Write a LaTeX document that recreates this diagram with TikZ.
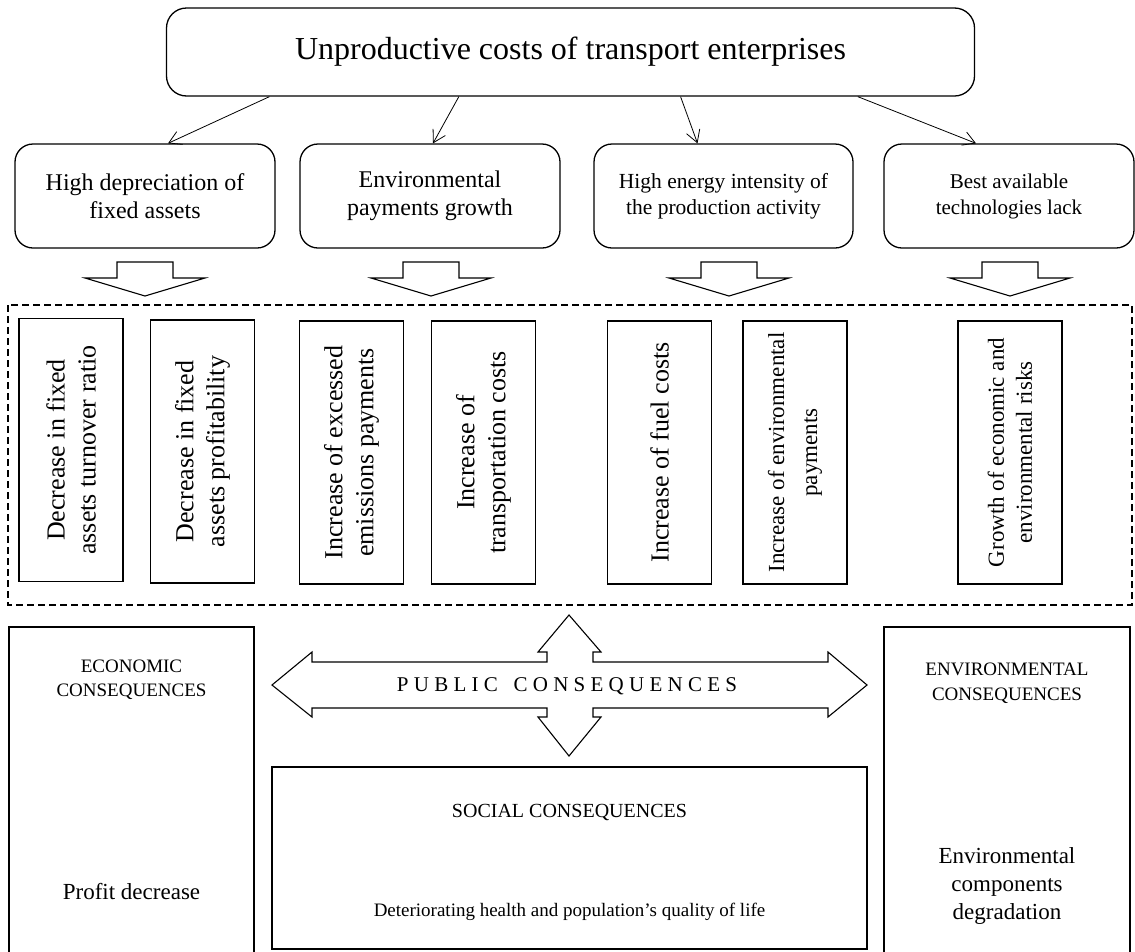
\documentclass[tikz,border=0pt]{standalone}
\usepackage{fontspec}
\setmainfont{Liberation Serif}
\usetikzlibrary{positioning,calc,arrows.meta}

\tikzset{
  rbox/.style={draw, line width=1.3pt, rounded corners=18pt, align=center, inner sep=2pt},
  vbox/.style={draw, line width=1.2pt, rotate=90, align=center, minimum width=263pt, minimum height=104pt, inner sep=2pt, font=\fontsize{26}{31}\selectfont},
  cbox/.style={draw, line width=1.2pt, minimum width=245pt},
  link/.style={line width=0.8pt, -{Straight Barb[length=12pt,width=14pt,line width=0.8pt]}},
  blockarrow/.style={line width=1.1pt},
}

\begin{document}
\begin{tikzpicture}[x=1pt, y=-1pt]
	\useasboundingbox (0,0) rectangle (1135,951);
	% top box and its causes
		\node[rbox, minimum width=808pt, minimum height=88pt, rounded corners=20pt, font=\fontsize{32}{38}\selectfont] (top) at (570.5,52) {Unproductive costs of transport enterprises};
		\node[rbox, minimum width=260pt, minimum height=104pt, font=\fontsize{24}{28}\selectfont] (hd) at (145,196) {High depreciation of\\fixed assets};
		\node[rbox, minimum width=260pt, minimum height=104pt, font=\fontsize{24}{28}\selectfont] (ep) at (430,196) {Environmental\\payments growth};
		\node[rbox, minimum width=259pt, minimum height=104pt, font=\fontsize{21.5}{26}\selectfont] (he) at (723.5,196) {High energy intensity of\\the production activity};
		\node[rbox, minimum width=250pt, minimum height=104pt, font=\fontsize{21}{26}\selectfont] (ba) at (1009,196) {Best available\\technologies lack};

		\draw[link] ($(top.south west)!0.128!(top.south east)$) -- ([xshift=23pt]hd.north);
		\draw[link] ($(top.south west)!0.362!(top.south east)$) -- ([xshift=3pt]ep.north);
		\draw[link] ($(top.south west)!0.636!(top.south east)$) -- ([xshift=-26pt]he.north);
		\draw[link] ($(top.south west)!0.855!(top.south east)$) -- ([xshift=-33pt]ba.north);

	% block arrows down
		\foreach \x in {145,431,729,1010}
			\draw[blockarrow] (\x-28,262) -- (\x+28,262) -- (\x+28,278) -- (\x+60,278) -- (\x,296) -- (\x-60,278) -- (\x-28,278) -- cycle;

	% the effects
		\draw[line width=1.3pt, dash pattern=on 7pt off 4pt] (8,305) rectangle (1132,605);
		\node[vbox] (v1) at (71,450) {Decrease in fixed\\assets turnover ratio};
		\node[vbox] (v2) at (202.5,451.5) {Decrease in fixed\\assets profitability};
		\node[vbox] (v3) at (351.5,452.5) {Increase of excessed\\emissions payments};
		\node[vbox] (v4) at (483.5,452.5) {Increase of\\transportation costs};
		\node[vbox] (v5) at (659.5,452.5) {Increase of fuel costs};
		\node[vbox, font=\fontsize{23}{33}\selectfont] (v6) at (795,452.5) {Increase of environmental\\payments};
		\node[vbox, font=\fontsize{23}{28}\selectfont] (v7) at (1010,452.5) {Growth of economic and\\environmental risks};

	% consequences
		\draw[line width=1.2pt] (9,960) -- (9,627) -- (254,627) -- (254,960);
		\draw[line width=1.2pt] (884,960) -- (884,627) -- (1130,627) -- (1130,960);
		\node[cbox, minimum width=595pt, minimum height=182pt] (soc) at (569.5,858) {};
		\coordinate (eco) at (131.5,627);
		\coordinate (env) at (1007,627);

		\node[align=center, font=\fontsize{19}{24}\selectfont, below=29pt of eco] (ecot) {ECONOMIC\\CONSEQUENCES};
		\node[font=\fontsize{23}{28}\selectfont] (ecod) at (131.5,892) {Profit decrease};
		\node[align=center, font=\fontsize{19}{25}\selectfont, below=32pt of env] (envt) {ENVIRONMENTAL\\CONSEQUENCES};
		\node[align=center, font=\fontsize{23}{28}\selectfont] (envd) at (1007,886) {Environmental\\components\\degradation};
		\node[font=\fontsize{20}{24}\selectfont, below=34pt of soc.north] (soct) {SOCIAL CONSEQUENCES};
		\node[font=\fontsize{19}{24}\selectfont] (socd) at (569.5,912) {Deteriorating health and population’s quality of life};

	% four way arrow
		\draw[blockarrow] (272,685) -- (312,652) -- (312,662) -- (547,662) -- (547,652) -- (538,652) -- (569,615) -- (601,652) -- (593,652) -- (593,662) -- (828,662) -- (828,652) -- (867,685) -- (828,717) -- (828,708) -- (593,708) -- (593,717) -- (601,717) -- (569,756) -- (538,717) -- (547,717) -- (547,708) -- (312,708) -- (312,717) -- cycle;
		\node[font=\fontsize{21}{24}\selectfont] (pub) at (567,686) {P U B L I C\ \ \ C O N S E Q U E N C E S};
\end{tikzpicture}
\end{document}
